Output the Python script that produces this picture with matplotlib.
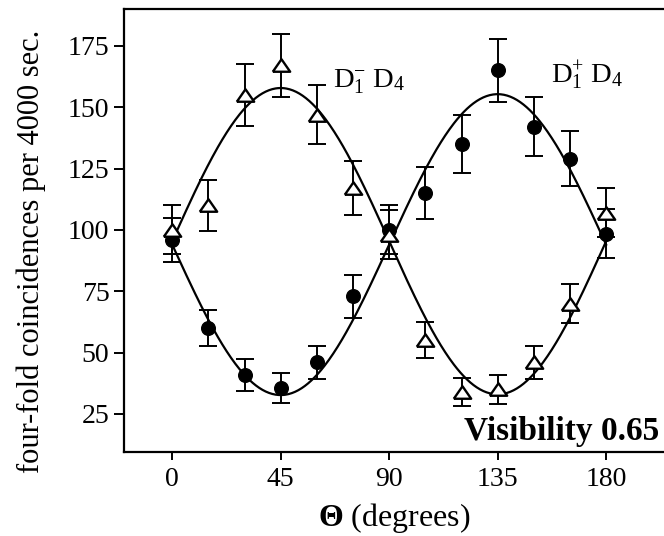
import numpy as np
import matplotlib
matplotlib.use("Agg")
import matplotlib.pyplot as plt

# ---- data ----
theta = [0, 15, 30, 45, 60, 75, 90, 105, 120, 135, 150, 165, 180]
minus_counts = [100, 110, 155, 167, 147, 117, 98, 55, 34, 35, 46, 70, 107]
minus_err = [10, 10.5, 12.5, 13, 12, 11, 10, 7.3, 5.6, 6, 6.7, 8, 10]
plus_counts = [96, 60, 41, 35.5, 46, 73, 100, 115, 135, 165, 142, 129, 98.5]
plus_err = [9, 7.5, 6.5, 6, 6.7, 8.7, 10, 10.7, 11.7, 12.7, 12, 11.3, 10]

# fitted sinusoid parameters (mean, amplitude)
fit_minus = (95.4, 62.4)
fit_plus = (94.0, 61.3)

xticks = [0, 45, 90, 135, 180]
yticks = [25, 50, 75, 100, 125, 150, 175]
label_minus = r"$\mathrm{D}_1^{-}\ \mathrm{D}_4$"
label_plus = r"$\mathrm{D}_1^{+}\ \mathrm{D}_4$"
visibility_text = "Visibility 0.65"
xlabel = r"$\mathbf{\Theta}$ (degrees)"
ylabel = "four-fold coincidences per 4000 sec."

plt.rcParams["font.family"] = ["Liberation Serif", "DejaVu Serif"]
plt.rcParams["mathtext.fontset"] = "custom"
plt.rcParams["mathtext.rm"] = "Liberation Serif"
plt.rcParams["mathtext.it"] = "Liberation Serif:italic"
plt.rcParams["mathtext.bf"] = "Liberation Serif:bold"

fig = plt.figure(figsize=(6.64, 5.36), dpi=100)
ax = fig.add_axes([124 / 664, 84 / 536, 1 - 124 / 664, (452 - 9) / 536])

t = np.linspace(0, 180, 400)
ax.plot(t, fit_minus[0] + fit_minus[1] * np.sin(np.radians(2 * t)),
        color="black", lw=1.6, zorder=2)
ax.plot(t, fit_plus[0] - fit_plus[1] * np.sin(np.radians(2 * t)),
        color="black", lw=1.6, zorder=2)

tri = [(-1, -0.72), (1, -0.72), (0, 0.72), (-1, -0.72)]
ax.errorbar(theta, plus_counts, yerr=plus_err, fmt="o", color="black",
            ms=9.8, capsize=6.5, elinewidth=1.4, capthick=1.4, zorder=3)
ax.errorbar(theta, minus_counts, yerr=minus_err, fmt="none", ecolor="black",
            capsize=6.5, elinewidth=1.4, capthick=1.4, zorder=3)
ax.plot(theta, minus_counts, linestyle="none", marker=tri, ms=12.5,
        mfc="white", mec="black", mew=1.7, zorder=4)

ax.set_xlim(-20, 204)
ax.set_ylim(9.5, 190)
ax.set_xticks(xticks)
ax.set_yticks(yticks)
ax.tick_params(axis="x", direction="out", length=6, width=1.4, pad=5,
               labelsize=20)
ax.tick_params(axis="y", direction="out", length=7.5, width=1.4, pad=3,
               labelsize=20)
for s in ["left", "top", "bottom"]:
    ax.spines[s].set_linewidth(1.6)
ax.spines["right"].set_visible(False)

ax.text(66.5, 158, label_minus, fontsize=20.5, ha="left", va="baseline")
ax.text(157, 160, label_plus, fontsize=20.5, ha="left", va="baseline")
ax.text(202, 14.4, visibility_text, fontsize=24, fontweight="bold",
        ha="right", va="baseline")

ax.set_xlabel(xlabel, fontsize=23, labelpad=6)
fig.text(31 / 664, 1 - 251 / 536, ylabel, fontsize=22, rotation=90,
         ha="center", va="center")

fig.savefig("out.png", dpi=100)
